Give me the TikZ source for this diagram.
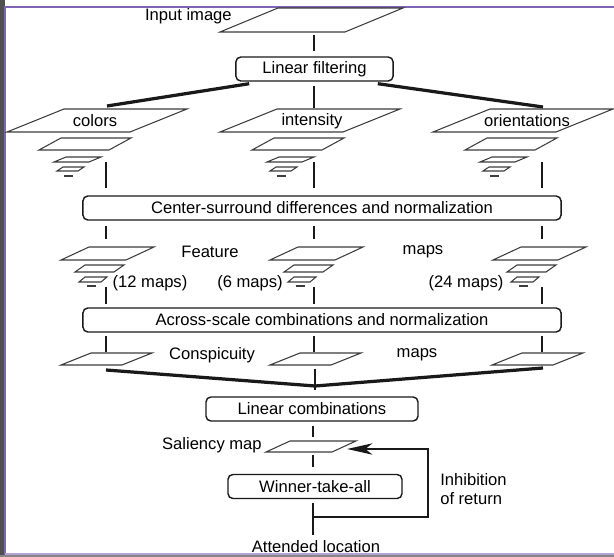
\documentclass[tikz,border=0pt]{standalone}
\usepackage{fontspec}
\setmainfont{Liberation Sans}
\usetikzlibrary{arrows.meta, calc}
\definecolor{framepurple}{RGB}{128,100,180}
\definecolor{framegray}{RGB}{80,80,80}
\definecolor{inkgray}{RGB}{25,25,25}
\definecolor{sheetgray}{RGB}{60,60,60}
\newcommand{\figfont}{\fontsize{11.8}{13}\selectfont}

% one map sheet: bottom-left x, bottom y, width, slant, height
\newcommand{\mapsheet}[5]{%
  \draw[sheet] (#1,#2) -- ++(#3,0) -- ++(#4,-#5) -- ++(-#3,0) -- cycle;}
% pyramid under the filtered images
\newcommand{\scalestack}[1]{%
  \mapsheet{#1+32}{150}{70}{22}{12}
  \mapsheet{#1+47}{162}{35}{12}{5}
  \mapsheet{#1+50}{171}{21}{6}{4}
  \draw[sheet] (#1+57,176) -- (#1+66,176);}
% pyramid of feature maps
\newcommand{\featurestack}[1]{%
  \mapsheet{#1}{260}{65}{28}{13}
  \mapsheet{#1+14}{272}{39}{10}{7}
  \mapsheet{#1+18}{282}{22}{6}{5}
  \draw[sheet] (#1+26,286) -- (#1+35,286);}

\begin{document}
\begin{tikzpicture}[x=0.025cm, y=-0.025cm,
    sheet/.style={draw=sheetgray, line width=0.75pt},
    stagebox/.style={draw=inkgray, line width=1pt, rounded corners=3.5pt,
                     minimum height=0.6cm, inner sep=0pt, font=\figfont},
    txt/.style={inner sep=0pt, font=\figfont},
    link/.style={draw=inkgray, line width=1.5pt},
    bundle/.style={draw=inkgray, line width=2.3pt},
    feedback/.style={draw=inkgray, line width=2pt, -{Stealth[length=18pt, width=8pt, inset=5pt]}}
]
    \useasboundingbox (0,0) rectangle (614,557);

    % screenshot frame
    \fill[framegray] (0,0) rectangle (4.5,557);
    \fill[framegray!70] (0,555.5) rectangle (614,557);
    \draw[framepurple, line width=1.4pt] (5,555) -- (5,7) -- (614,7);
    \draw[framepurple!60, line width=1.4pt] (5,554) -- (614,554);

    % input and filtering
    \node[txt, anchor=east] (inputlabel) at (232,16) {Input image};
    \mapsheet{220}{32}{125}{58}{24}
    \coordinate (inputsheet) at (314,32);
    \node[stagebox, minimum width=3.93cm] (filter) at (314.5,69) {Linear filtering};
    \draw[link, shorten <=2pt, shorten >=3.5pt] (inputsheet) -- (inputsheet |- filter.north);

    \coordinate (colorsin) at (107,106);
    \coordinate (intensityin) at (314,108);
    \coordinate (orientin) at (543,107);
    \draw[bundle] ($(filter.south west)+(14,2)$) -- (colorsin);
    \draw[bundle] ($(filter.south east)+(-16,2)$) -- (orientin);
    \draw[link, shorten <=3pt] (filter.south -| intensityin) -- (intensityin);

    % filtered images and their pyramids
    \foreach \x in {7,220,433} {
        \mapsheet{\x}{132}{123}{57}{23}
        \scalestack{\x}
    }
    \node[txt] (colors) at (95,121) {colors};
    \node[txt] (intensity) at (312,121) {intensity};
    \node[txt] (orient) at (527,121) {orientations};

    \node[stagebox, minimum width=11.95cm] (surround) at (322,208) {Center-surround differences and normalization};

    % feature maps
    \foreach \x in {61,270,493} {
        \featurestack{\x}
    }
    \node[txt] (featurelabel) at (210,252) {Feature};
    \node[txt] (featuremaps) at (423,252) {maps};
    \node[txt] (colorcount) at (150,283) {(12 maps)};
    \node[txt] (intensitycount) at (250,283) {(6 maps)};
    \node[txt] (orientcount) at (466,283) {(24 maps)};

    \node[stagebox, minimum width=11.95cm] (across) at (322,320) {Across-scale combinations and normalization};

    % conspicuity maps
    \foreach \x in {61,270,492} {
        \mapsheet{\x}{365}{61}{30}{12}
    }
    \node[txt] (conspicuity) at (212,355) {Conspicuity};
    \node[txt] (conspmaps) at (417,355) {maps};

    \foreach \col/\c in {colors/106, intensity/314, orient/542} {
        \coordinate (\col-pyr) at (\c,162);
        \coordinate (\col-feat) at (\c,239);
        \coordinate (\col-featout) at (\c,287);
        \coordinate (\col-consp) at (\c,352);
        \draw[link, shorten >=5pt] (\col-pyr) -- (\col-pyr |- surround.north);
        \draw[link, shorten <=3.5pt] (surround.south -| \col-feat) -- (\col-feat);
        \draw[link, shorten >=2pt] (\col-featout) -- (\col-featout |- across.north);
        \draw[link, shorten <=2pt] (across.south -| \col-consp) -- (\col-consp);
    }

    % merging into the saliency map
    \coordinate (merge) at (315,386);
    \coordinate (colorsout) at (106,370);
    \coordinate (intensityout) at (315,369);
    \coordinate (orientout) at (543,368);
    \draw[bundle] (colorsout) -- (merge) -- (orientout);
    \draw[link, shorten >=-3pt] (intensityout) -- (merge);

    \node[stagebox, minimum width=5.3cm] (lincomb) at (312,409) {Linear combinations};
    \coordinate (saliencytop) at (313,437);
    \draw[link, shorten <=3pt] (lincomb.south -| saliencytop) -- (saliencytop);

    \mapsheet{266}{452}{66}{24}{11}
    \node[txt, anchor=east] (saliency) at (262,445) {Saliency map};
    \coordinate (saliencybottom) at (313,455);

    \node[stagebox, minimum width=4.35cm] (wta) at (315,486.5) {Winner-take-all};
    \draw[link, shorten >=5pt] (saliencybottom) -- (saliencybottom |- wta.north);

    \node[txt] (attended) at (316,547) {Attended location};
    \draw[link, shorten <=3pt, shorten >=4pt] (wta.south -| saliencybottom) -- (saliencybottom |- attended.north);

    % inhibition of return loop
    \coordinate (loopstart) at (313,517);
    \coordinate (loopturn) at (428,449);
    \coordinate (looptip) at (347,449);
    \draw[feedback] (loopstart) -| (loopturn) -- (looptip);
    \node[txt, anchor=west, align=left] (inhibition) at (440,489) {Inhibition\\of return};
\end{tikzpicture}
\end{document}
